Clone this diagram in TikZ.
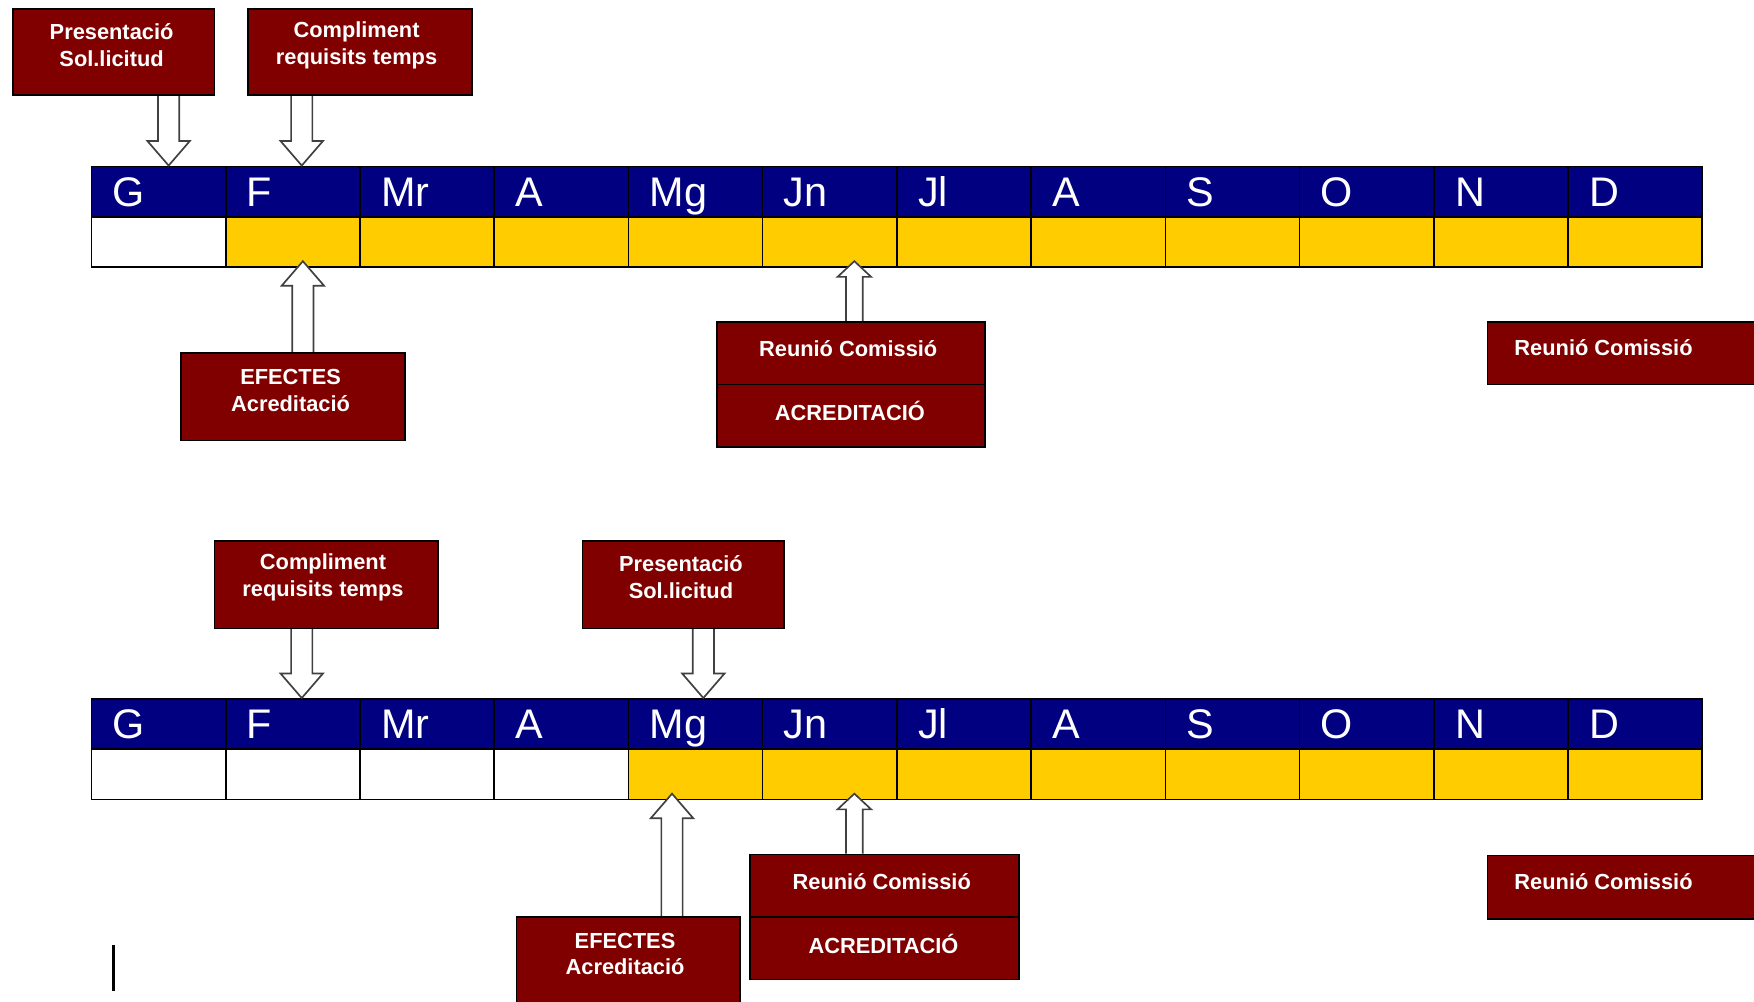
\documentclass[tikz,border=0pt]{standalone}
\usepackage{fontspec}
\setmainfont{Liberation Sans}
\usetikzlibrary{calc}
\definecolor{navy}{HTML}{000080}
\definecolor{gold}{HTML}{FFCC00}
\definecolor{maroon}{HTML}{800000}
\definecolor{arrowgray}{HTML}{404040}
\pgfdeclarelayer{bgfill}
\pgfdeclarelayer{cells}
\pgfdeclarelayer{arrows}
\pgfsetlayers{bgfill,cells,arrows,main}
\tikzset{
  monthcell/.style={draw=black, line width=1.5pt, fill=navy, text=white, anchor=north west,
    minimum width=120pt, minimum height=45pt, inner xsep=19pt, inner ysep=0pt,
    text width=82pt, align=left, text height=26.5pt, text depth=0pt,
    font=\fontsize{37}{40}\selectfont},
  daycell/.style={draw=black, line width=1.5pt, anchor=north west,
    minimum width=120pt, minimum height=45pt, inner sep=0pt},
  box/.style={draw=black, line width=1.5pt, fill=maroon, anchor=north west, inner sep=0pt},
  boxtext/.style={text=white, align=center, inner sep=0pt,
    font=\bfseries\fontsize{19.5}{24}\selectfont},
  barrow/.style={draw=arrowgray, line width=1.5pt, fill=white, line join=miter},
}
\newcommand\BArrowDown[5]{%
  \draw[barrow] let \p1=(#1), \p2=(#2) in
    ({\x1-#3pt},\y1) -- ({\x1-#3pt},{\y2+#5pt}) -- ({\x1-#4pt},{\y2+#5pt}) -- (\x1,\y2)
    -- ({\x1+#4pt},{\y2+#5pt}) -- ({\x1+#3pt},{\y2+#5pt}) -- ({\x1+#3pt},\y1);}
\newcommand\BArrowUp[5]{%
  \draw[barrow] let \p1=(#1), \p2=(#2) in
    ({\x1-#3pt},\y1) -- ({\x1-#3pt},{\y2-#5pt}) -- ({\x1-#4pt},{\y2-#5pt}) -- (\x1,\y2)
    -- ({\x1+#4pt},{\y2-#5pt}) -- ({\x1+#3pt},{\y2-#5pt}) -- ({\x1+#3pt},\y1);}
\begin{document}
\begin{tikzpicture}[x=1pt,y=-1pt]
\useasboundingbox (0,0) rectangle (1568,895);
\begin{pgfonlayer}{bgfill}
  \fill[white] (0,0) rectangle (1568,895);
\end{pgfonlayer}
% ---------- timelines ----------
\begin{pgfonlayer}{cells}
  \foreach \m/\c [count=\i] in {G/white,F/gold,Mr/gold,A/gold,Mg/gold,Jn/gold,Jl/gold,A/gold,S/gold,O/gold,N/gold,D/gold} {
    \node[monthcell] (m\i) at ({81+120*(\i-1)},148) {\m};
    \node[daycell, fill=\c] (y\i) at ({81+120*(\i-1)},193) {};
  }
  \foreach \m/\c [count=\i] in {G/white,F/white,Mr/white,A/white,Mg/gold,Jn/gold,Jl/gold,A/gold,S/gold,O/gold,N/gold,D/gold} {
    \node[monthcell] (n\i) at ({81+120*(\i-1)},624) {\m};
    \node[daycell, fill=\c] (z\i) at ({81+120*(\i-1)},669) {};
  }
\end{pgfonlayer}
% ---------- upper section boxes ----------
\node[box, minimum width=180pt, minimum height=77pt] (ps1) at (11,7) {};
\node[boxtext] (ps1t) at ([shift={(-2,-6)}]ps1.center) {Presentació\\Sol.licitud};
\node[box, minimum width=200pt, minimum height=77pt] (cr1) at (221,7) {};
\node[boxtext] (cr1t) at ([shift={(-3,-6)}]cr1.center) {Compliment\\requisits temps};
\node[box, minimum width=200pt, minimum height=78pt] (ef1) at (161,315) {};
\node[boxtext] (ef1t) at ([shift={(-2,-6)}]ef1.center) {EFECTES\\Acreditació};
\node[box, minimum width=240pt, minimum height=56pt] (rc1) at (640,287) {};
\node[boxtext] (rc1t) at ([shift={(-2.5,-4)}]rc1.center) {Reunió Comissió};
\node[box, minimum width=240pt, minimum height=56pt] (ac1) at (640,343) {};
\node[boxtext] (ac1t) at ([shift={(-1,-4)}]ac1.center) {ACREDITACIÓ};
\node[box, minimum width=260pt, minimum height=56pt] (rr1) at (1329,287) {};
\node[boxtext] (rr1t) at (1433.5,311) {Reunió Comissió};
% ---------- lower section boxes ----------
\node[box, minimum width=200pt, minimum height=78pt] (cr2) at (191,483) {};
\node[boxtext] (cr2t) at ([shift={(-3,-6.5)}]cr2.center) {Compliment\\requisits temps};
\node[box, minimum width=180pt, minimum height=78pt] (ps2) at (520,483) {};
\node[boxtext] (ps2t) at ([shift={(-2,-6.5)}]ps2.center) {Presentació\\Sol.licitud};
\node[box, minimum width=200pt, minimum height=78pt] (ef2) at (461,819) {};
\node[boxtext] (ef2t) at ([shift={(-3,-6)}]ef2.center) {EFECTES\\Acreditació};
\node[box, minimum width=240pt, minimum height=56pt] (rc2) at (670,763) {};
\node[boxtext] (rc2t) at ([shift={(-2.5,-4)}]rc2.center) {Reunió Comissió};
\node[box, minimum width=240pt, minimum height=56pt] (ac2) at (670,819) {};
\node[boxtext] (ac2t) at ([shift={(-1,-4)}]ac2.center) {ACREDITACIÓ};
\node[box, minimum width=260pt, minimum height=57pt] (rr2) at (1329,764) {};
\node[boxtext] (rr2t) at (1433.5,788) {Reunió Comissió};
% ---------- block arrows ----------
\begin{pgfonlayer}{arrows}
  \BArrowDown{[xshift=49pt]ps1.south}{m1.north}{9.5}{19}{22}
  \BArrowDown{[xshift=-52pt]cr1.south}{m2.north}{9.5}{19}{22}
  \BArrowUp{[xshift=9pt]ef1.north}{[yshift=6pt]y2.south}{9.5}{19}{22}
  \BArrowUp{[xshift=3pt]rc1.north}{[yshift=6pt]y6.south}{7.5}{15}{14}
  \BArrowDown{[xshift=-22pt]cr2.south}{n2.north}{9.5}{19}{22}
  \BArrowDown{[xshift=18pt]ps2.south}{n5.north}{9.5}{19}{22}
  \BArrowUp{[xshift=39pt]ef2.north}{[yshift=6pt]z5.south}{9.5}{19}{22}
  \BArrowUp{[xshift=-27pt]rc2.north}{[yshift=6pt]z6.south}{7.5}{15}{14}
\end{pgfonlayer}
% ---------- cursor mark ----------
\draw[line width=3pt] (101.5,845) -- (101.5,886);
\end{tikzpicture}
\end{document}
